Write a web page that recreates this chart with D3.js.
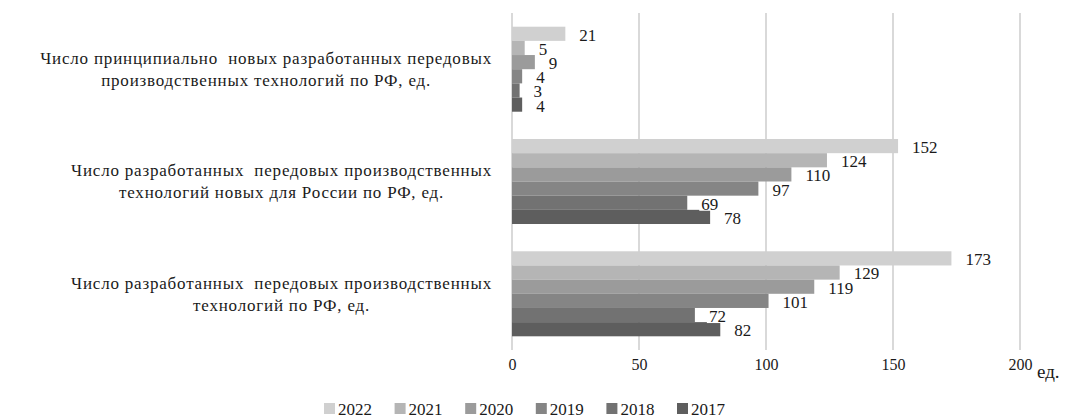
<!DOCTYPE html>
<html>
<head>
<meta charset="utf-8">
<script src="https://cdn.jsdelivr.net/npm/d3@7"></script>
<style>
  body { margin: 0; background: #fff; }
  svg text { fill: #1a1a1a; }
</style>
</head>
<body>
<svg id="chart" width="1079" height="418"></svg>
<script>
// categories top to bottom, each split into its two display lines
const categories = [
    ["Число принципиально  новых разработанных передовых", "производственных технологий по РФ, ед."],
    ["Число разработанных  передовых производственных", "технологий новых для России по РФ, ед."],
    ["Число разработанных  передовых производственных", "технологий по РФ, ед."]
];
const years = ["2022", "2021", "2020", "2019", "2018", "2017"];
// one array per year, values in category order
const values2022 = [21, 152, 173];
const values2021 = [5, 124, 129];
const values2020 = [9, 110, 119];
const values2019 = [4, 97, 101];
const values2018 = [3, 69, 72];
const values2017 = [4, 78, 82];
const xTicks = [0, 50, 100, 150, 200];
const colors = ["#d0d0d0", "#b5b5b5", "#9b9b9b", "#858585", "#727272", "#5e5e5e"];

const series = [values2022, values2021, values2020, values2019, values2018, values2017];
const FONT = "'Liberation Serif', 'Times New Roman', 'DejaVu Serif', serif";

const svg = d3.select('#chart');
const plotTop = 13, plotBottom = 350;

const x = d3.scaleLinear().domain([0, 200]).range([512, 1020]);
const y0 = d3.scaleBand()
    .domain(d3.range(categories.length))
    .range([plotTop, plotBottom])
    .paddingInner(0.243)
    .paddingOuter(0.122);
const y1 = d3.scaleBand()
    .domain(years)
    .range([0, y0.bandwidth()]);
const color = d3.scaleOrdinal().domain(years).range(colors);

// gridlines
svg.append("g")
    .selectAll("line")
    .data(xTicks)
    .enter().append("line")
    .attr("x1", d => x(d)).attr("x2", d => x(d))
    .attr("y1", plotTop).attr("y2", plotBottom)
    .attr("stroke", "#d9d9d9")
    .attr("stroke-width", 2);

// x axis labels
const xAxis = svg.append("g")
    .attr("transform", "translate(0," + 359 + ")")
    .call(d3.axisBottom(x).tickValues(xTicks).tickSize(0).tickPadding(0));
xAxis.attr("font-family", FONT).attr("font-size", 16);
xAxis.select(".domain").remove();
xAxis.selectAll("text")
    .attr("dy", "0.71em")
    .attr("fill", "#1a1a1a");

svg.append("text")
    .attr("x", 1037).attr("y", 378)
    .attr("font-family", FONT)
    .attr("font-size", 19)
    .text("ед.");

// bars
const rows = [];
series.forEach((vals, i) => {
    vals.forEach((v, c) => rows.push({ year: years[i], cat: c, value: v }));
});

svg.append("g").selectAll("rect")
    .data(rows)
    .enter().append("rect")
    .attr("x", x(0))
    .attr("y", d => y0(d.cat) + y1(d.year))
    .attr("width", d => x(d.value) - x(0))
    .attr("height", y1.bandwidth())
    .attr("fill", d => color(d.year));

// value labels with white backing, drawn after all bars
const labels = svg.append("g").selectAll("g")
    .data(rows)
    .enter().append("g")
    .attr("transform", d => "translate(" + (x(d.value) + 14) + "," + (y0(d.cat) + y1(d.year) + y1.bandwidth() / 2 + 1) + ")");

labels.append("rect").attr("fill", "#fff");

labels.append("text")
    .attr("dy", "0.35em")
    .attr("font-family", FONT)
    .attr("font-size", 17)
    .text(d => d.value);

labels.each(function() {
    const g = d3.select(this);
    const w = g.select("text").node().getComputedTextLength();
    g.select("rect")
        .attr("x", -2).attr("y", -7)
        .attr("width", w + 4).attr("height", 14);
});

// category labels, centred block ending near the axis
categories.forEach((lines, c) => {
    const cy = y0(c) + y0.bandwidth() / 2;
    const t = svg.append("text")
        .attr("text-anchor", "middle")
        .attr("font-family", FONT)
        .attr("font-size", 17)
        .attr("letter-spacing", "0.8px")
        .style("white-space", "pre");
    lines.forEach((ln, i) => {
        t.append("tspan")
            .attr("x", 0)
            .attr("y", cy + (i - (lines.length - 1) / 2) * 22)
            .attr("dy", "0.35em")
            .text(ln);
    });
    let maxW = 0;
    t.selectAll("tspan").each(function() {
        maxW = Math.max(maxW, this.getComputedTextLength());
    });
    t.selectAll("tspan").attr("x", 492 - maxW / 2);
});

// legend
const legend = svg.append("g")
    .attr("transform", "translate(324,408)");
const item = legend.selectAll("g")
    .data(years)
    .enter().append("g")
    .attr("transform", (d, i) => "translate(" + (i * 70.6) + ",0)");
item.append("rect")
    .attr("x", 0).attr("y", -5)
    .attr("width", 11).attr("height", 11)
    .attr("fill", d => color(d));
item.append("text")
    .attr("x", 14).attr("y", 1)
    .attr("dy", "0.35em")
    .attr("font-family", FONT)
    .attr("font-size", 17)
    .text(d => d);
</script>
</body>
</html>
